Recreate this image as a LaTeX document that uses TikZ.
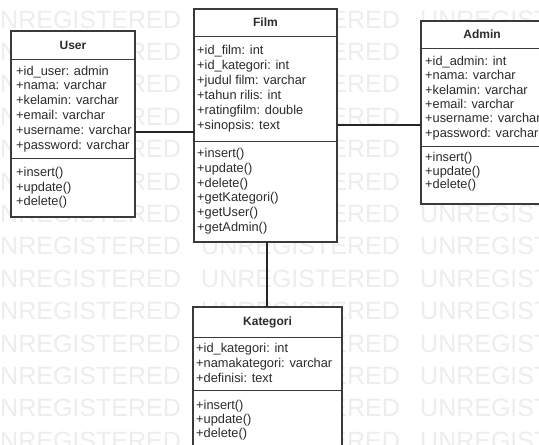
\documentclass[tikz,border=0pt]{standalone}
\usepackage{fontspec}
\setmainfont{Liberation Sans}
\definecolor{ink}{HTML}{2B2B2B}
\definecolor{rule}{HTML}{3A3A3A}
\definecolor{wmark}{HTML}{EDEDED}
\tikzset{
  classbox/.style={draw=rule, line width=1.1pt, fill=white, anchor=north west,
    inner sep=0pt, outer sep=0pt},
  classtitle/.style={font=\fontsize{12}{14}\selectfont\bfseries, text=ink, inner sep=0pt},
  member/.style={font=\fontsize{12.8}{15}\selectfont, text=ink, anchor=base west, inner sep=0pt},
  divider/.style={draw=rule, line width=1pt},
  link/.style={draw=black!85, line width=1.1pt},
  wm/.style={font=\fontsize{25}{30}\selectfont, text=wmark, anchor=base west, inner sep=0pt}
}
\begin{document}
\begin{tikzpicture}[x=1pt, y=-1pt]
\clip (0,0) rectangle (539,445);
\fill[white] (0,0) rectangle (539,445);

% background watermark rows
\foreach \r in {0,...,13}
  \foreach \c in {0,1,2}
    \node[wm] (wm-\r-\c) at (-18+219*\c, 28+32.4*\r) {UNREGISTERED};

% ---- User ----
\node[classbox, minimum width=124, minimum height=186] (user) at (11,31) {};
\node[classtitle] (user-title) at (73,45) {User};
\draw[divider] (11,59) -- (135,59);
\draw[divider] (11,158) -- (135,158);
\foreach \txt [count=\i from 0] in {+id\_user: admin, +nama: varchar, +kelamin: varchar,
    +email: varchar, +username: varchar, +password: varchar}
  \node[member] (user-a\i) at (16, 75+14.8*\i) {\txt};
\foreach \txt [count=\i from 0] in {+insert(), +update(), +delete()}
  \node[member] (user-m\i) at (16, 176.5+14.5*\i) {\txt};

% ---- Film ----
\node[classbox, minimum width=143, minimum height=233] (film) at (194,9) {};
\node[classtitle] (film-title) at (265.5,22.5) {Film};
\draw[divider] (194,36) -- (337,36);
\draw[divider] (194,141) -- (337,141);
\foreach \txt [count=\i from 0] in {+id\_film: int, +id\_kategori: int, +judul film: varchar,
    +tahun rilis: int, +ratingfilm: double, +sinopsis: text}
  \node[member] (film-a\i) at (197, 54.5+15*\i) {\txt};
\foreach \txt [count=\i from 0] in {+insert(), +update(), +delete(), +getKategori(),
    +getUser(), +getAdmin()}
  \node[member] (film-m\i) at (197, 157.5+14.8*\i) {\txt};

% ---- Admin ----
\node[classbox, minimum width=128, minimum height=183] (admin) at (421,21) {};
\node[classtitle] (admin-title) at (482,34.5) {Admin};
\draw[divider] (421,48) -- (549,48);
\draw[divider] (421,146) -- (549,146);
\foreach \txt [count=\i from 0] in {+id\_admin: int, +nama: varchar, +kelamin: varchar,
    +email: varchar, +username: varchar, +password: varchar}
  \node[member] (admin-a\i) at (425, 65.5+14.3*\i) {\txt};
\foreach \txt [count=\i from 0] in {+insert(), +update(), +delete()}
  \node[member] (admin-m\i) at (425, 161.5+13.5*\i) {\txt};

% ---- Kategori ----
\node[classbox, minimum width=149, minimum height=150] (kat) at (193,307) {};
\node[classtitle] (kat-title) at (267.5,322) {Kategori};
\draw[divider] (193,337) -- (342,337);
\draw[divider] (193,390) -- (342,390);
\foreach \txt [count=\i from 0] in {+id\_kategori: int, +namakategori: varchar, +definisi: text}
  \node[member] (kat-a\i) at (196, 352.5+15*\i) {\txt};
\foreach \txt [count=\i from 0] in {+insert(), +update(), +delete()}
  \node[member] (kat-m\i) at (196, 409.5+14*\i) {\txt};

% ---- associations ----
\draw[link] (user.east |- 0,132) -- (film.west |- 0,132);
\draw[link] (film.east |- 0,125) -- (admin.west |- 0,125);
\draw[link] (film.south -| 267,0) -- (kat.north -| 267,0);
\end{tikzpicture}
\end{document}
